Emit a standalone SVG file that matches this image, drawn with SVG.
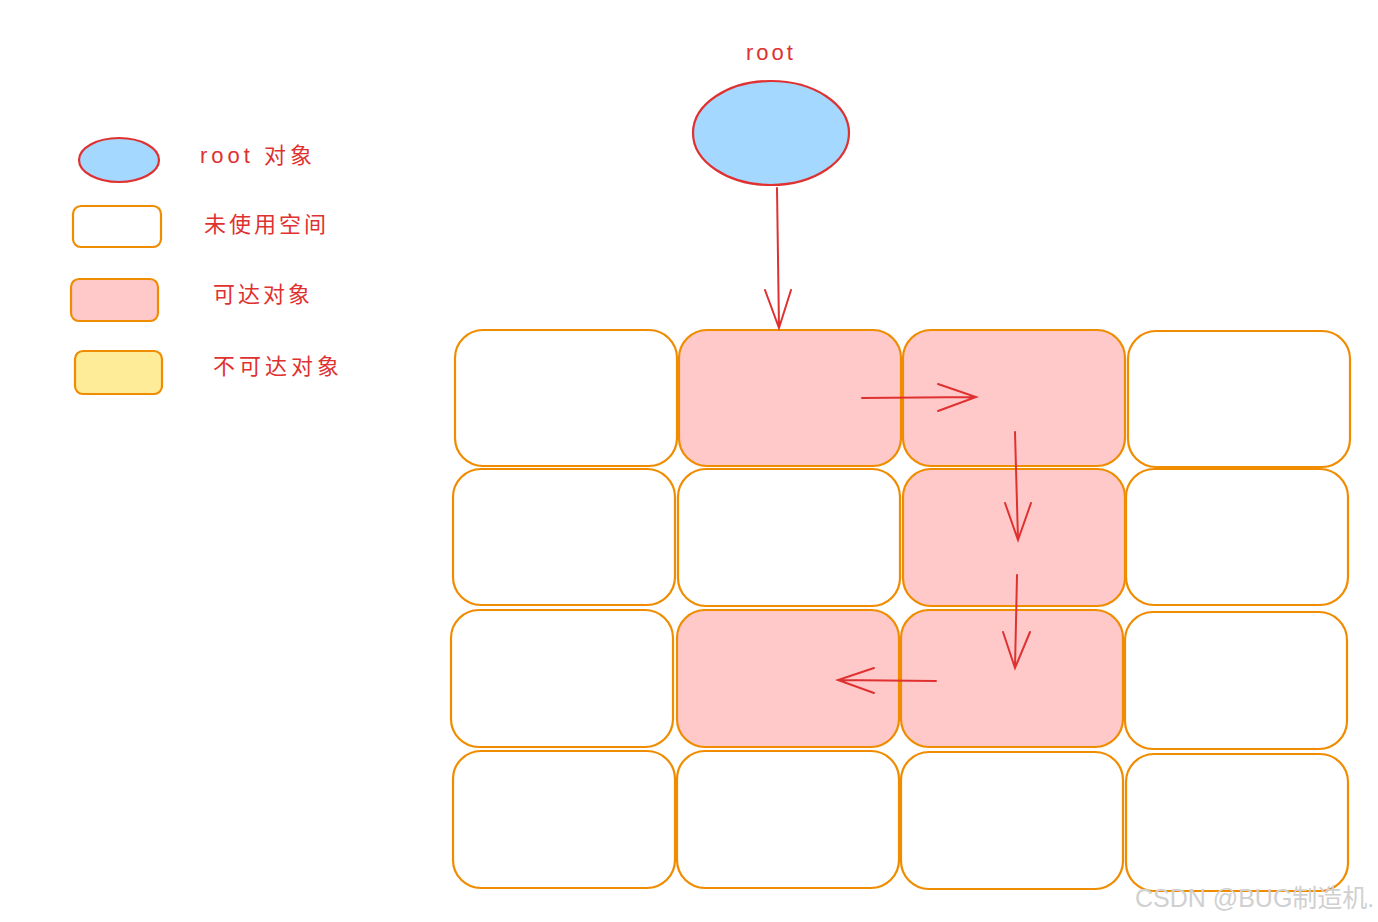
<svg xmlns="http://www.w3.org/2000/svg" width="1378" height="922" viewBox="0 0 1378 922">
<defs>
<style>
.cell{fill:#ffffff;stroke:#f08c00;stroke-width:2.2}
.pink{fill:#ffc9c9}
.yellow{fill:#ffec99}
.blue{fill:#a5d8ff;stroke:#e03131;stroke-width:2.2}
.arr{fill:none;stroke:#e03131;stroke-width:2;stroke-linecap:round}
.lbl{font-family:"Liberation Sans","Noto Sans CJK SC",sans-serif;font-size:22px;fill:#e03131;letter-spacing:3px}
.wm{font-family:"Liberation Sans","Noto Sans CJK SC",sans-serif;font-size:25px;fill:#d0d0d0}
</style>
</defs>
<rect width="1378" height="922" fill="#ffffff"/>
<g id="legend">
<g id="legend-root"><ellipse class="blue" cx="119" cy="160" rx="40" ry="22"/><text class="lbl" x="200" y="163" style="letter-spacing:4px">root 对象</text></g>
<g id="legend-unused"><rect class="cell" x="73" y="206" width="88" height="41" rx="8"/><text class="lbl" x="204" y="232">未使用空间</text></g>
<g id="legend-reach"><rect class="cell pink" x="71" y="279" width="87" height="42" rx="8"/><text class="lbl" x="213" y="302">可达对象</text></g>
<g id="legend-unreach"><rect class="cell yellow" x="75" y="351" width="87" height="43" rx="8"/><text class="lbl" x="213" y="374" style="letter-spacing:4px">不可达对象</text></g>
</g>
<g id="root"><text class="lbl" x="771" y="60" text-anchor="middle">root</text><ellipse class="blue" cx="771" cy="133" rx="78" ry="52"/></g>
<g id="grid">
<g id="r1c1"><rect class="cell" x="455" y="330" width="222" height="136" rx="28"/></g>
<g id="r1c2"><rect class="cell pink" x="679" y="330" width="222" height="136" rx="28"/></g>
<g id="r1c3"><rect class="cell pink" x="903" y="330" width="222" height="136" rx="28"/></g>
<g id="r1c4"><rect class="cell" x="1128" y="331" width="222" height="136" rx="28"/></g>
<g id="r2c1"><rect class="cell" x="453" y="469" width="222" height="136" rx="28"/></g>
<g id="r2c2"><rect class="cell" x="678" y="469" width="222" height="137" rx="28"/></g>
<g id="r2c3"><rect class="cell pink" x="903" y="469" width="222" height="137" rx="28"/></g>
<g id="r2c4"><rect class="cell" x="1126" y="469" width="222" height="136" rx="28"/></g>
<g id="r3c1"><rect class="cell" x="451" y="610" width="222" height="137" rx="28"/></g>
<g id="r3c2"><rect class="cell pink" x="677" y="610" width="222" height="137" rx="28"/></g>
<g id="r3c3"><rect class="cell pink" x="901" y="610" width="222" height="137" rx="28"/></g>
<g id="r3c4"><rect class="cell" x="1125" y="612" width="222" height="137" rx="28"/></g>
<g id="r4c1"><rect class="cell" x="453" y="751" width="222" height="137" rx="28"/></g>
<g id="r4c2"><rect class="cell" x="677" y="751" width="222" height="137" rx="28"/></g>
<g id="r4c3"><rect class="cell" x="901" y="752" width="222" height="137" rx="28"/></g>
<g id="r4c4"><rect class="cell" x="1126" y="754" width="222" height="137" rx="28"/></g>
</g>
<g id="connectors">
<path class="arr" d="M777 188 L779 328 M765 290 L779 328 L791 290"/>
<path class="arr" d="M862 398 L976 397 M938 384 L976 397 L938 411"/>
<path class="arr" d="M1015 432 L1018 540 M1005 503 L1018 540 L1031 503"/>
<path class="arr" d="M1017 575 L1015 668 M1003 632 L1015 668 L1030 632"/>
<path class="arr" d="M936 681 L838 680 M874 668 L838 680 L874 693"/>
</g>
<text class="wm" x="1135" y="907">CSDN @BUG制造机.</text>
</svg>
